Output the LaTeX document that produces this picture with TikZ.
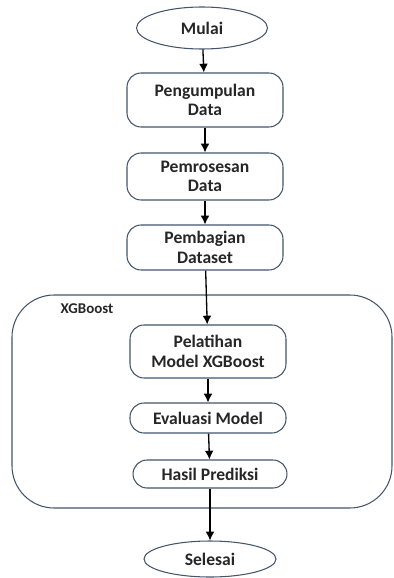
\documentclass[tikz,border=0pt]{standalone}
\usepackage{fontspec}
\setmainfont{Carlito}
\usetikzlibrary{shapes.geometric,arrows.meta}
\definecolor{edgeblue}{HTML}{44546A}
\definecolor{txtgray}{HTML}{262626}
\tikzset{
	stepbox/.style={draw=edgeblue, line width=0.6pt, rounded corners=8pt, minimum width=3.12cm, align=center, text=txtgray, font=\fontsize{10}{11}\selectfont\bfseries, inner sep=0pt},
	termbox/.style={draw=edgeblue, line width=0.6pt, ellipse, inner sep=0pt, text=txtgray, font=\fontsize{10}{11}\selectfont\bfseries},
	flow/.style={-{Latex[length=5pt,width=5pt]}, line width=0.75pt, black}
}
\begin{document}
\begin{tikzpicture}[x=0.02cm,y=-0.02cm]
		\useasboundingbox (0,0) rectangle (394,578);
		
		\draw[edgeblue, line width=0.6pt, rounded corners=24pt] (12,295) rectangle (392,508);
		\node[text=txtgray, font=\fontsize{8.5}{9}\selectfont\bfseries] (xgb) at (87,309) {XGBoost};
		
		\node[termbox, minimum width=2.62cm, minimum height=0.84cm] (mulai) at (202,28) {Mulai};
		\node[stepbox, minimum height=1.08cm] (kumpul) at (205,100) {Pengumpulan\\Data};
		\node[stepbox, minimum height=0.94cm] (proses) at (205,176.5) {Pemrosesan\\Data};
		\node[stepbox, minimum height=0.9cm] (bagi) at (205,247.5) {Pembagian\\Dataset};
		\node[stepbox, minimum height=1.06cm] (latih) at (208,351.5) {Pelatihan\\Model XGBoost};
		\node[stepbox, minimum height=0.6cm] (eval) at (208,418) {Evaluasi Model};
		\node[stepbox, minimum width=3.08cm, minimum height=0.56cm] (hasil) at (210,474) {Hasil Prediksi};
		\node[termbox, minimum width=2.64cm, minimum height=0.72cm] (selesai) at (210,559) {Selesai};
		
		\foreach \a/\b in {mulai/kumpul, kumpul/proses, proses/bagi, bagi/latih, latih/eval, eval/hasil, hasil/selesai}{
			\draw[flow] (\a) -- (\b);
		}
	\end{tikzpicture}
\end{document}
